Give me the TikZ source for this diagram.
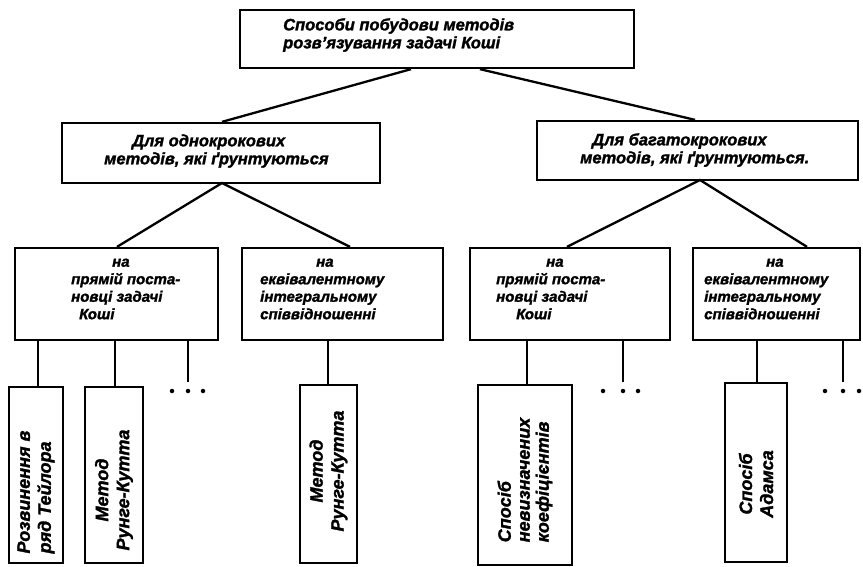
\documentclass[tikz,border=0pt]{standalone}
\usepackage{fontspec}
\setmainfont{Liberation Sans}[BoldItalicFeatures={FakeBold=1.6}]
\begin{document}
\begin{tikzpicture}[x=1pt,y=-1pt,
  box/.style={draw, line width=2.3pt, inner sep=0pt},
  conn/.style={line width=2.3pt},
  txtA/.style={font=\fontsize{16.5}{18}\selectfont\bfseries\itshape, inner sep=0pt},
  txt/.style={font=\fontsize{15}{17.5}\selectfont\bfseries\itshape, inner sep=0pt},
  ltxt/.style={font=\fontsize{18}{21}\selectfont\bfseries\itshape, inner sep=0pt, rotate=90},
  dotm/.style={circle, fill, inner sep=0pt, minimum size=4.5pt}]
\useasboundingbox (0,0) rectangle (863,566);
% level 1
\node[box, minimum width=394pt, minimum height=58pt] (top) at (437,39) {};
\node[txtA, align=left, anchor=west] (topt) at (283,35) {Способи побудови методів\\розв'язування задачі Коші};
% level 2
\node[box, minimum width=318pt, minimum height=60pt] (midL) at (221,153) {};
\node[txtA, align=left, anchor=west] (midLt) at (104,151) {\hspace*{28pt}Для однокрокових\\методів, які ґрунтуються};
\node[box, minimum width=321pt, minimum height=59pt] (midR) at (697.5,150.5) {};
\node[txtA, align=left, anchor=west] (midRt) at (580,150) {\hspace*{12pt}Для багатокрокових\\методів, які ґрунтуються.};
% level 3
\node[box, minimum width=203pt, minimum height=92pt] (b1) at (116.5,294) {};
\node[txt, align=left, anchor=west] (b1t) at (71,289) {\hspace*{41pt}на\\прямій поста-\\новці задачі\\\hspace*{8pt}Коші};
\node[box, minimum width=201pt, minimum height=92pt] (b2) at (342.5,294) {};
\node[txt, align=left, anchor=west] (b2t) at (260,289) {\hspace*{56pt}на\\еквівалентному\\інтегральному\\співвідношенні};
\node[box, minimum width=200pt, minimum height=92pt] (b3) at (570,294) {};
\node[txt, align=left, anchor=west] (b3t) at (496,289) {\hspace*{50pt}на\\прямій поста-\\новці задачі\\\hspace*{20pt}Коші};
\node[box, minimum width=167pt, minimum height=92pt] (b4) at (776.5,294) {};
\node[txt, align=left, anchor=west] (b4t) at (704,289) {\hspace*{62pt}на\\еквівалентному\\інтегральному\\співвідношенні};
% leaves
\node[box, minimum width=54pt, minimum height=176pt] (l1) at (36,475) {};
\node[ltxt, align=left] (l1t) at (36,492) {Розвинення в\\ряд Тейлора};
\node[box, minimum width=58pt, minimum height=176pt] (l2) at (114,475) {};
\node[ltxt, align=center] (l2t) at (114,490) {Метод\\Рунге-Кутта};
\node[box, minimum width=57pt, minimum height=178pt] (l3) at (328.5,474) {};
\node[ltxt, align=center] (l3t) at (328.5,471) {Метод\\Рунге-Кутта};
\node[box, minimum width=94pt, minimum height=180pt] (l4) at (525,475) {};
\node[ltxt, align=left, font=\fontsize{18}{19}\selectfont\bfseries\itshape] (l4t) at (525,480) {Спосіб\\невизначених\\коефіцієнтів};
\node[box, minimum width=62pt, minimum height=179pt] (l5) at (756,472.5) {};
\node[ltxt, align=center] (l5t) at (756,484) {Спосіб\\Адамса};
% connectors level 1 -> 2
\draw[conn] (411,0 |- top.south) -- (222,0 |- midL.north);
\draw[conn] (480,0 |- top.south) -- (695,0 |- midR.north);
% level 2 -> 3
\coordinate (pL) at (222,183);
\coordinate (pR) at (700,180);
\draw[conn] (117,0 |- b1.north) -- (pL) -- (350,0 |- b2.north);
\draw[conn] (567,0 |- b3.north) -- (pR) -- (807,0 |- b4.north);
% level 3 -> leaves
\draw[conn] (38,0 |- b1.south) -- (38,0 |- l1.north);
\draw[conn] (115,0 |- b1.south) -- (115,0 |- l2.north);
\draw[conn] (328,0 |- b2.south) -- (328,0 |- l3.north);
\draw[conn] (527,0 |- b3.south) -- (527,0 |- l4.north);
\draw[conn] (757,0 |- b4.south) -- (757,0 |- l5.north);
% dots
\coordinate (e1) at (188,382);
\coordinate (e3) at (623,382);
\coordinate (e4) at (843,382);
\draw[conn] (e1 |- b1.south) -- (e1);
\draw[conn] (e3 |- b3.south) -- (e3);
\draw[conn] (e4 |- b4.south) -- (e4);
\node[dotm] (d11) at (172,391) {};
\node[dotm] (d12) at (188,391) {};
\node[dotm] (d13) at (203,391) {};
\node[dotm] (d31) at (603,391) {};
\node[dotm] (d32) at (623,391) {};
\node[dotm] (d33) at (638,391) {};
\node[dotm] (d41) at (825,391) {};
\node[dotm] (d42) at (843,391) {};
\node[dotm] (d43) at (859,391) {};
\end{tikzpicture}
\end{document}
